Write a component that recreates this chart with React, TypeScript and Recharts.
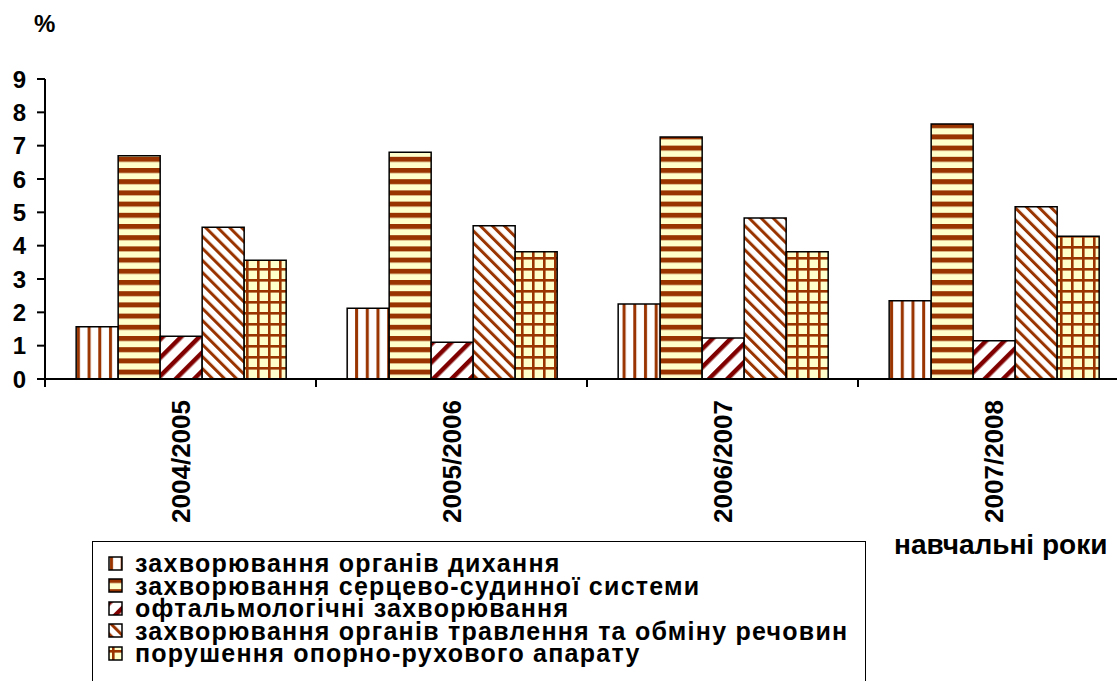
import React from "react";
import { BarChart, Bar, XAxis, YAxis } from "recharts";

const years = ["2004/2005", "2005/2006", "2006/2007", "2007/2008"];
const respiratory = [1.57, 2.12, 2.25, 2.35];
const cardio = [6.7, 6.8, 7.26, 7.65];
const ophthalmic = [1.28, 1.1, 1.23, 1.15];
const digestive = [4.55, 4.6, 4.83, 5.17];
const musculo = [3.56, 3.82, 3.82, 4.28];
const yTicks = [0, 1, 2, 3, 4, 5, 6, 7, 8, 9];

const seriesNames = [
  "захворювання органів дихання",
  "захворювання серцево-судинної системи",
  "офтальмологічні захворювання",
  "захворювання органів травлення та обміну речовин",
  "порушення опорно-рухового апарату",
];

const data = years.map((y, i) => ({
  year: y,
  s1: respiratory[i],
  s2: cardio[i],
  s3: ophthalmic[i],
  s4: digestive[i],
  s5: musculo[i],
}));

const BROWN = "#993300";
const DARKRED = "#800000";
const CREAM = "#FFFFCC";
const FONT = "'Liberation Sans', Arial, sans-serif";

const CHART_W = 1140;
const CHART_H = 681;
const PLOT_LEFT = 45;
const PLOT_RIGHT = 1129;
const TICK_SIZE = 8;
const TICK_MARGIN = 13;
const band = (PLOT_RIGHT - PLOT_LEFT) / years.length;

function Patterns({ prefix }: { prefix: string }) {
  return (
    <defs>
      <pattern id={`${prefix}p1`} patternUnits="userSpaceOnUse" width={10.7} height={10}>
        <rect width={10.7} height={10} fill="#fff" />
        <rect x={2} width={3} height={10} fill={BROWN} />
      </pattern>
      <pattern id={`${prefix}p2`} patternUnits="userSpaceOnUse" width={10} height={11.2}>
        <rect width={10} height={11.2} fill={CREAM} />
        <rect y={0} width={10} height={5} fill={BROWN} />
      </pattern>
      <pattern id={`${prefix}p3`} patternUnits="userSpaceOnUse" width={13} height={13} patternTransform="rotate(45)">
        <rect width={13} height={13} fill="#fff" />
        <rect width={4.5} height={13} fill={DARKRED} />
      </pattern>
      <pattern id={`${prefix}p4`} patternUnits="userSpaceOnUse" width={8.5} height={8.5} patternTransform="rotate(-45)">
        <rect width={8.5} height={8.5} fill="#fff" />
        <rect width={3} height={8.5} fill={BROWN} />
      </pattern>
      <pattern id={`${prefix}p5`} patternUnits="userSpaceOnUse" width={11} height={11}>
        <rect width={11} height={11} fill={CREAM} />
        <rect x={4} width={2.6} height={11} fill={BROWN} />
        <rect y={4} width={11} height={2.6} fill={BROWN} />
      </pattern>
    </defs>
  );
}

const YearTick = (props: any) => {
  const { x, y, payload } = props;
  const axisY = y - TICK_MARGIN - TICK_SIZE;
  return (
    <g>
      <line x1={x - band / 2} x2={x - band / 2} y1={axisY} y2={axisY + TICK_SIZE} stroke="#000" strokeWidth={2} />
      <line x1={x + band / 2} x2={x + band / 2} y1={axisY} y2={axisY + TICK_SIZE} stroke="#000" strokeWidth={2} />
      <text
        x={x}
        y={y}
        dy="0.36em"
        textAnchor="end"
        transform={`rotate(-90, ${x}, ${y})`}
        fontFamily={FONT}
        fontWeight="bold"
        fontSize={26}
        fill="#000"
      >
        {payload.value}
      </text>
    </g>
  );
};

export default function App() {
  const keys = ["s1", "s2", "s3", "s4", "s5"];
  return (
    <div style={{ position: "absolute", left: 0, top: 0, width: 1117, height: 681, overflow: "hidden", background: "#fff", fontFamily: FONT }}>
      <BarChart
        width={CHART_W}
        height={CHART_H}
        data={data}
        margin={{ top: 79, right: CHART_W - PLOT_RIGHT, left: 0, bottom: 0 }}
        barCategoryGap="11.5%"
        barGap={0}
      >
        <Patterns prefix="c" />
        <XAxis
          dataKey="year"
          height={302}
          interval={0}
          tickLine={false}
          tickSize={TICK_SIZE}
          tickMargin={TICK_MARGIN}
          axisLine={{ stroke: "#000", strokeWidth: 2 }}
          tick={<YearTick />}
        />
        <YAxis
          width={PLOT_LEFT}
          domain={[0, 9]}
          ticks={yTicks}
          interval={0}
          tickSize={TICK_SIZE}
          tickMargin={11}
          axisLine={{ stroke: "#000", strokeWidth: 2 }}
          tickLine={{ stroke: "#000", strokeWidth: 2 }}
          tick={{ fill: "#000", fontSize: 24, fontWeight: "bold", fontFamily: FONT }}
        />
        {keys.map((k, i) => (
          <Bar
            key={k}
            dataKey={k}
            name={seriesNames[i]}
            fill={`url(#cp${i + 1})`}
            stroke="#000"
            strokeWidth={1.5}
            isAnimationActive={false}
          />
        ))}
      </BarChart>
      <div style={{ position: "absolute", left: 34, top: 10, fontSize: 24, fontWeight: "bold" }}>%</div>
      <div style={{ position: "absolute", left: 894, top: 529, fontSize: 28, fontWeight: "bold", whiteSpace: "nowrap" }}>
        навчальні роки
      </div>
      <div
        style={{
          position: "absolute",
          left: 92,
          top: 541,
          width: 774,
          height: 160,
          border: "1.5px solid #000",
          boxSizing: "border-box",
          paddingTop: 10,
        }}
      >
        {seriesNames.map((n, i) => (
          <div key={n} style={{ display: "flex", alignItems: "center", height: 22.5, marginLeft: 15 }}>
            <svg width={15} height={15} style={{ marginRight: 12, flex: "none" }}>
              <Patterns prefix={`l${i}`} />
              <rect x={1} y={1} width={13} height={13} fill={`url(#l${i}p${i + 1})`} stroke="#000" strokeWidth={1.5} />
            </svg>
            <div
              style={{
                fontSize: 25,
                fontWeight: "bold",
                lineHeight: "22.5px",
                height: 22.5,
                letterSpacing: 1.25,
                whiteSpace: "nowrap",
              }}
            >
              {n}
            </div>
          </div>
        ))}
      </div>
    </div>
  );
}
